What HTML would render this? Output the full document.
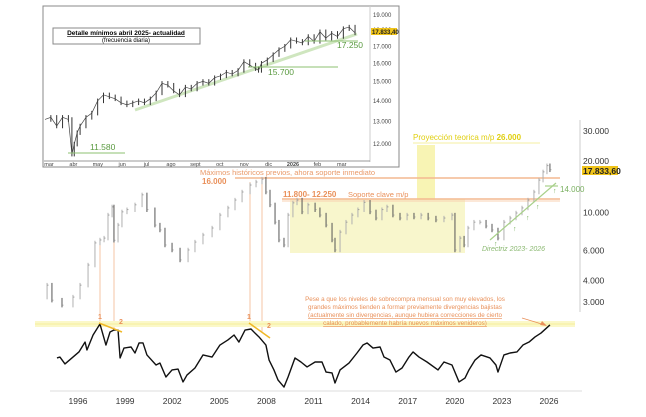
<!DOCTYPE html>
<html><head><meta charset="utf-8"><style>
html,body{margin:0;padding:0;background:#fff}
svg{display:block;font-family:"Liberation Sans",sans-serif}
</style></head><body>
<svg id="c" width="646" height="417" viewBox="0 0 646 417">
<rect width="646" height="417" fill="#fff"/>
<rect x="290" y="199" width="175" height="54" fill="#f8f6cc"/>
<rect x="417" y="145" width="18" height="55" fill="#f8f4b4"/>
<text x="413" y="140" font-size="8" fill="#e0cf10">Proyección teorica m/p <tspan font-weight="bold">26.000</tspan></text>
<line x1="413" y1="143" x2="540" y2="143" stroke="#f4efa0" stroke-width="1"/>
<line x1="235" y1="178" x2="560" y2="178" stroke="#f4b890" stroke-width="1.5"/>
<line x1="282" y1="199" x2="560" y2="199" stroke="#f4b890" stroke-width="1.5"/>
<line x1="282" y1="201" x2="560" y2="201" stroke="#f8d0b0" stroke-width="1"/>
<text x="200" y="175" font-size="7.5" fill="#e99a6a">Máximos históricos previos, ahora soporte inmediato</text>
<text x="202" y="184" font-size="8" font-weight="bold" fill="#e9905a">16.000</text>
<text x="283" y="197" font-size="8" font-weight="bold" fill="#e9905a">11.800- 12.250</text>
<text x="348" y="197" font-size="7.5" fill="#e9905a">Soporte clave m/p</text>
<g stroke="#f6c6a6" stroke-width="1">
<line x1="100" y1="240" x2="100" y2="325"/><line x1="114" y1="205" x2="114" y2="330"/>
<line x1="250" y1="182" x2="250" y2="325"/><line x1="262" y1="178" x2="262" y2="332"/>
</g>
<g id="price"></g>
<line x1="490" y1="240" x2="556" y2="183" stroke="#a8d08a" stroke-width="1.2"/>
<line x1="545" y1="186" x2="558" y2="186" stroke="#a8d08a" stroke-width="1.2"/>
<g fill="#7ab060" font-size="7">
<text x="494" y="246">↑</text><text x="513" y="231">↑</text><text x="526" y="220">↑</text><text x="536" y="209">↑</text><text x="553" y="193">↑</text>
</g>
<text x="560" y="192" font-size="8" fill="#7ab060">14.000</text>
<text x="482" y="251" font-size="7" font-style="italic" fill="#8ab870">Directriz 2023- 2026</text>
<line x1="580" y1="120" x2="580" y2="312" stroke="#ccc"/>
<g id="yticks" font-size="8.5" fill="#333"></g>
<rect x="582" y="166" width="36" height="9" fill="#f0c419"/>
<text x="583" y="174" font-size="8.5" font-weight="bold" fill="#222">17.833,60</text>
<rect x="35" y="321" width="540" height="6" fill="#fbf8c8"/>
<line x1="35" y1="324" x2="575" y2="324" stroke="#f4ee9c" stroke-width="1"/>
<g id="rsi"></g>
<line x1="99" y1="323" x2="122" y2="332" stroke="#f0b828" stroke-width="1.5"/>
<line x1="249" y1="323" x2="270" y2="338" stroke="#f0b828" stroke-width="1.5"/>
<g font-size="7" font-weight="bold" fill="#e9905a">
<text x="98" y="319">1</text><text x="119" y="324">2</text>
<text x="247" y="319">1</text><text x="267" y="328">2</text>
</g>
<g font-size="6.3" fill="#e9905a" text-anchor="middle">
<text x="405" y="301">Pese a que los niveles de sobrecompra mensual son muy elevados, los</text>
<text x="405" y="309">grandes máximos tienden a formar previamente divergencias bajistas</text>
<text x="405" y="317" text-decoration="underline">(actualmente sin divergencias, aunque hubiera correcciones de cierto</text>
<text x="405" y="325" text-decoration="underline">calado, probablemente habría nuevos máximos venideros)</text>
</g>
<line x1="522" y1="318" x2="545" y2="325" stroke="#e9905a" stroke-width="0.8"/>
<polygon points="547,326 542,321 540,325" fill="#e9905a"/>
<line x1="50" y1="391" x2="582" y2="391" stroke="#ddd"/>
<g id="xticks" font-size="8.5" fill="#333" text-anchor="middle"></g>
<rect x="43" y="6" width="356" height="161" fill="#fff" stroke="#888"/>
<line x1="370" y1="6" x2="370" y2="162" stroke="#ccc"/>
<line x1="44" y1="161" x2="370" y2="161" stroke="#999"/>
<line x1="135" y1="110" x2="357" y2="34" stroke="#cfe6bf" stroke-width="3"/>
<g id="inset"></g>
<g id="iyticks" font-size="6" fill="#444"></g>
<g id="ixticks" font-size="5.5" fill="#444" text-anchor="middle"></g>
<rect x="53" y="28" width="147" height="16" fill="#fff" stroke="#888"/>
<text x="126" y="35" font-size="6.5" font-weight="bold" text-anchor="middle" text-decoration="underline">Detalle mínimos abril 2025- actualidad</text>
<text x="126" y="42" font-size="6" text-anchor="middle">(frecuencia diaria)</text>
<g stroke="#8cc070" stroke-width="1">
<line x1="68" y1="153" x2="125" y2="153"/><line x1="248" y1="67" x2="338" y2="67"/><line x1="305" y1="41" x2="358" y2="41"/>
</g>
<g font-size="8.5" fill="#5a9a40">
<text x="90" y="150">11.580</text>
<text x="268" y="75">15.700</text>
<text x="337" y="48">17.250</text>
</g>
<rect x="371" y="28" width="26" height="7" fill="#f0c419"/>
<text x="372" y="34" font-size="6" font-weight="bold" fill="#222">17.833,40</text>
</svg>
<script>
const priceYears=[1993.58,1994.03,1994.34,1994.98,1995.68,1996.13,1996.64,1997.08,1997.4,1997.66,1997.91,1998.17,1998.29,1998.55,1998.8,1999.12,1999.63,2000.08,2000.39,2000.9,2001.22,2001.54,2001.99,2002.5,2003.01,2003.45,2003.96,2004.54,2005.04,2005.55,2006,2006.45,2006.96,2007.34,2007.72,2007.97,2008.23,2008.55,2008.8,2009.12,2009.38,2009.69,2009.95,2010.27,2010.65,2011.1,2011.41,2011.8,2012.18,2012.37,2012.69,2013.07,2013.45,2013.83,2014.22,2014.6,2014.98,2015.36,2015.68,2016.06,2016.51,2016.96,2017.4,2017.85,2018.3,2018.8,2019.31,2019.82,2020.01,2020.33,2020.59,2020.84,2021.22,2021.6,2021.99,2022.37,2022.75,2023.13,2023.52,2023.9,2024.28,2024.66,2025.04,2025.36,2025.62,2025.87,2026.06];
const priceValues=[3.21,3.77,3.08,2.88,3.21,3.77,4.94,6.65,6.92,7.1,9.68,10.8,6.9,8.46,10.1,10.4,11.1,12.7,10.4,8.46,7.92,6.47,6.05,5.29,6.05,6.73,7.4,8.13,9.68,10.65,11.85,13.2,14.5,15.1,15.7,13.2,11.1,8.8,6.92,6.47,9.68,11.4,11.85,10.1,11.1,10.4,9.68,8.46,6.92,6.05,7.7,8.8,9.68,10.4,11.5,10.1,9.3,10.4,10.8,9.68,9.3,9.68,9.43,9.68,9.3,9.06,9.3,9.68,6.05,7.1,6.47,8.13,8.8,8.8,8.35,7.92,7.1,8.8,9.3,9.95,10.65,11.85,13.2,15.5,17.3,18.8,17.8];
const yTickValues=[30,20,10,6,4,3];
const yTickLabels=["30.000","20.000","10.000","6.000","4.000","3.000"];
const xTickYears=[1996,1999,2002,2005,2008,2011,2014,2017,2020,2023,2026];
const rsiYears=[1994.66,1994.85,1995.17,1995.68,1996.06,1996.45,1996.57,1996.96,1997.4,1997.78,1998.04,1998.29,1998.55,1998.68,1998.93,1999.38,1999.63,1999.89,2000.14,2000.39,2000.97,2001.22,2001.6,2001.99,2002.37,2002.69,2002.94,2003.45,2003.96,2004.54,2005.04,2005.55,2005.94,2006.25,2006.64,2007.02,2007.27,2007.53,2007.97,2008.17,2008.48,2008.74,2009.12,2009.38,2009.82,2010.2,2010.59,2011.1,2011.54,2011.8,2012.18,2012.37,2012.69,2013.26,2013.77,2014.15,2014.41,2014.79,2015.24,2015.49,2015.87,2016.25,2016.64,2017.08,2017.34,2017.72,2018.23,2018.93,2019.31,2019.82,2020.27,2020.65,2020.9,2021.29,2021.67,2022.24,2022.62,2022.75,2023.13,2023.52,2023.96,2024.34,2024.73,2025.11,2025.49,2026.06];
const rsiValues=[50.7,51.3,46.7,51.3,54.7,61.3,56,66,73.3,59.3,68,69.3,69.3,50.7,57.3,58,54,60.7,60.7,52.7,46,47.3,38,42.7,43.3,34.7,39.3,44,52.7,51.3,59.3,62.7,66,61.3,69.3,70,67.3,64.7,59.3,49.3,42.7,36,31.3,38,50.7,48,44.7,48,48,41.3,40.7,34,42.7,47.3,54,59.3,60.7,57.3,58,51.3,49.3,41.3,44,51.3,54.7,51.3,48,42.7,48,46,34.7,37.3,42.7,49.3,52.7,50.7,46,41.3,52.7,54,54.7,59.3,61.3,64.7,67.3,72.7];
const insetMonths=["mar","abr","may","jun","jul","ago","sept","oct","nov","dic","2026","feb","mar"];
const insetTickValues=[19,18,17,16,15,14,13,12];
const insetTickLabels=["19.000","18.000","17.000","16.000","15.000","14.000","13.000","12.000"];
const insetWeeks=[0,1,2,3,4,4.6,5,5.5,6,7,8,9,10,11,12,13,14,15,16,17,18,19,20,21,22,23,24,25,26,27,28,29,30,31,32,33,34,35,36,36.5,37,38,39,40,41,42,43,44,45,46,47,48,49,50,51,52,53];
const insetValues=[13.1,13.2,12.8,13.2,13.1,11.58,12.0,12.5,12.8,13.2,13.4,14.0,14.3,14.2,14.1,13.9,13.8,13.9,14.0,13.9,14.1,14.4,14.9,14.8,14.5,14.3,14.7,14.6,14.9,15.0,14.9,15.2,15.3,15.5,15.4,15.6,16.1,15.9,15.7,15.6,16.0,16.2,16.5,16.8,17.0,17.4,17.3,17.2,17.6,17.3,17.9,17.5,17.8,17.6,18.1,18.2,17.83];

const NS="http://www.w3.org/2000/svg";
function el(t,a,p){const e=document.createElementNS(NS,t);for(const k in a)e.setAttribute(k,a[k]);p.appendChild(e);return e;}
const xs=y=>78+(y-1996)*15.7;
const ys=p=>131+Math.log(30/p)*74.3;
const rs=v=>434-v*1.5;
const ix=w=>45+w*5.85;
const iy=p=>15+Math.log(19/p)*281;

const pg=document.getElementById('price');
for(let i=1;i<priceValues.length;i++){
 const a=priceValues[i-1],b=priceValues[i];
 const hi=Math.max(a,b)*1.03,lo=Math.min(a,b)*0.97;
 const x=xs(priceYears[i]);
 const ln=el('line',{x1:x,x2:x,y1:ys(hi),y2:ys(lo),stroke:b<a?'#555':'#b0b0b0','stroke-width':1},pg);
 
 
 const t=el('line',{x1:x,x2:x+1.5,y1:ys(b),y2:ys(b),stroke:'#888','stroke-width':0.7},pg);
 
 
}
const yt=document.getElementById('yticks');
yTickValues.forEach((v,i)=>{const t=el('text',{x:583,y:ys(v)+3},yt);t.textContent=yTickLabels[i];
 
 });
const xt=document.getElementById('xticks');
xTickYears.forEach(v=>{const t=el('text',{x:xs(v),y:404},xt);t.textContent=v;
 
 });
const rp=el('polyline',{points:rsiYears.map((y,i)=>xs(y)+','+rs(rsiValues[i])).join(' '),fill:'none',stroke:'#111','stroke-width':1.4,'stroke-linejoin':'round'},document.getElementById('rsi'));


const ig=document.getElementById('inset');
for(let i=1;i<insetValues.length;i++){
 const a=insetValues[i-1],b=insetValues[i];
 const x=ix(insetWeeks[i]);
 const ln=el('line',{x1:x,x2:x,y1:iy(Math.max(a,b)*1.008),y2:iy(Math.min(a,b)*0.992),stroke:'#333','stroke-width':1},ig);
 
 
}
const ip=el('polyline',{points:insetWeeks.map((w,i)=>ix(w)+','+iy(insetValues[i])).join(' '),fill:'none',stroke:'#444','stroke-width':0.7},ig);


const iyt=document.getElementById('iyticks');
insetTickValues.forEach((v,i)=>{const t=el('text',{x:373,y:iy(v)+2},iyt);t.textContent=insetTickLabels[i];
 
 });
const ixt=document.getElementById('ixticks');
insetMonths.forEach((m,i)=>{const t=el('text',{x:49+i*24.4,y:166},ixt);t.textContent=m;if(m==='2026')t.setAttribute('font-weight','bold');
 
 });
</script>
</body></html>
